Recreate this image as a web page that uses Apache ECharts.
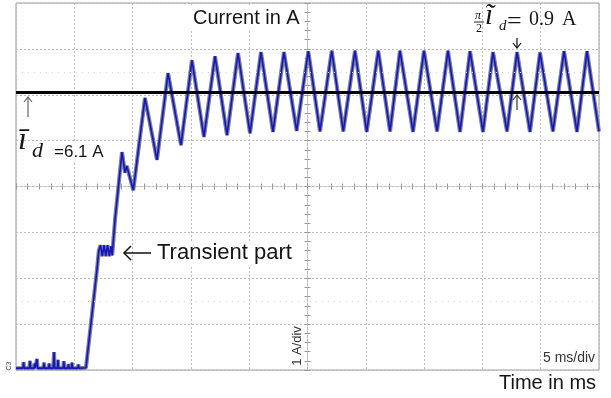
<!DOCTYPE html>
<html>
<head>
<meta charset="utf-8">
<script src="https://cdn.jsdelivr.net/npm/echarts@6/dist/echarts.min.js"></script>
<style>
  html, body { margin: 0; padding: 0; background: #fff; }
  #chart { width: 611px; height: 398px; }
</style>
</head>
<body>
<div id="chart"></div>
<script>
(function () {
  // scope settings: 5 ms/div, 1 A/div
  const timeRange = [0, 50];
  const timeStep = 5;
  const currentRange = [0, 8];
  const currentStep = 1;
  const meanCurrent = 6.06;
  const faintRows = [1.5, 6.5];

  // trace (ms, A)
  const timeMs = [
    0, 0.6, 0.65, 0.7, 1.15, 1.2, 1.25, 1.55, 1.6, 1.65, 1.75, 1.8, 1.85, 2.35, 2.4, 2.45,
    2.8, 2.85, 2.9, 3.2, 3.26, 3.32, 3.55, 3.6, 3.65, 4.05, 4.1, 4.15, 4.45, 4.5, 4.55,
    4.75, 4.8, 4.85, 5.3, 5.35, 5.4, 6.0,
    6.4, 6.95, 7.1,
    7.25, 7.4, 7.55, 7.7, 7.85, 8.0, 8.15, 8.25,
    8.5, 9.09, 9.35, 9.5, 10.06,
    11.06, 12.09, 13.04, 14.15, 15.09, 16.12, 17.07, 18.1, 19.04, 20.07,
    21.01, 22.04, 22.98, 24.07, 25.07, 26.07, 27.08, 28.07, 29.07, 30.08,
    31.07, 32.08, 32.93, 34.05, 34.99, 36.11, 37.05, 38.08, 38.94, 40.05,
    40.91, 42.11, 42.97, 44.08, 44.94, 46.05, 47.0, 48.11, 48.97, 50
  ];
  const currentA = [
    0.04, 0.04, 0.17, 0.04, 0.04, 0.2, 0.04, 0.04, 0.14, 0.04, 0.04, 0.24, 0.04, 0.04, 0.16, 0.04,
    0.04, 0.14, 0.04, 0.04, 0.39, 0.04, 0.04, 0.22, 0.04, 0.04, 0.19, 0.04, 0.04, 0.13, 0.04,
    0.04, 0.16, 0.04, 0.04, 0.12, 0.04, 0.05,
    0.95, 2.2, 2.6,
    2.72, 2.48, 2.72, 2.48, 2.72, 2.48, 2.7, 2.5,
    3.3, 4.75, 4.3, 4.45, 3.92,
    5.93, 4.58, 6.47, 4.9, 6.75, 5.08, 6.84, 5.12, 6.91, 5.16,
    6.93, 5.19, 6.93, 5.21, 6.95, 5.2, 6.96, 5.2, 6.96, 5.19,
    6.96, 5.2, 6.96, 5.19, 6.96, 5.2, 6.96, 5.19, 6.95, 5.19,
    6.93, 5.2, 6.93, 5.19, 6.92, 5.2, 6.95, 5.19, 6.95, 5.2
  ];

  const trace = timeMs.map((t, i) => [t, currentA[i]]);

  const grid = { left: 16, right: 12, top: 3, bottom: 28 };
  const gridLine = { show: true, lineStyle: { color: '#bdbdbd', type: [2, 2], width: 1 } };
  const hidden = { show: false };

  // tick marks along the centre lines of the screen
  const centreX = (inside) => ({
    type: 'value', min: -25, max: 25, interval: timeStep,
    axisLine: { show: true, onZero: true, onZeroAxisIndex: 1, lineStyle: { color: '#bdbdbd', type: [2, 2] } },
    axisTick: { show: true, inside: inside, length: 3, lineStyle: { color: '#999' } },
    minorTick: { show: true, splitNumber: 5, length: 3, lineStyle: { color: '#999' } },
    axisLabel: hidden, splitLine: hidden
  });
  const centreY = (inside) => ({
    type: 'value', min: -4, max: 4, interval: currentStep,
    axisLine: { show: true, onZero: true, onZeroAxisIndex: 1, lineStyle: { color: '#bdbdbd', type: [2, 2] } },
    axisTick: { show: true, inside: inside, length: 3, lineStyle: { color: '#999' } },
    minorTick: { show: true, splitNumber: 5, length: 3, lineStyle: { color: '#999' } },
    axisLabel: hidden, splitLine: hidden
  });

  const sans = '"Liberation Sans", Arial, sans-serif';
  const serif = '"Liberation Serif", "DejaVu Serif", serif';

  const label = (x, y, text, font, extra) => ({
    type: 'text', x: x, y: y, z: 100,
    style: Object.assign({ text: text, font: font, fill: '#151515', backgroundColor: '#fff' }, extra || {})
  });
  const path = (points, color, width) => ({
    type: 'polyline', z: 100,
    shape: { points: points },
    style: { stroke: color, lineWidth: width, fill: null }
  });

  const chart = echarts.init(document.getElementById('chart'));
  chart.setOption({
    animation: false,
    grid: Object.assign({ show: true, borderColor: '#9a9a9a', borderWidth: 1, backgroundColor: '#fff' }, grid),
    xAxis: [
      { type: 'value', min: timeRange[0], max: timeRange[1], interval: timeStep,
        axisLine: hidden, axisTick: hidden, axisLabel: hidden, splitLine: gridLine },
      centreX(true),
      centreX(false)
    ],
    yAxis: [
      { type: 'value', min: currentRange[0], max: currentRange[1], interval: currentStep,
        axisLine: hidden, axisTick: hidden, axisLabel: hidden, splitLine: gridLine },
      centreY(true),
      centreY(false)
    ],
    series: [
      {
        type: 'line', data: trace, showSymbol: false, silent: true,
        lineStyle: { color: '#7a8095', width: 4 },
        markLine: {
          silent: true, symbol: 'none', label: hidden,
          lineStyle: { color: '#d4d4d4', type: [1, 5], width: 1 },
          data: faintRows.map(v => ({ yAxis: v }))
        }
      },
      {
        type: 'line', data: trace, showSymbol: false, silent: true,
        lineStyle: { color: '#1414c0', width: 1.6 },
        markLine: {
          silent: true, symbol: 'none', label: hidden,
          lineStyle: { color: '#000', type: 'solid', width: 3 },
          data: [{ yAxis: meanCurrent }]
        }
      }
    ],
    graphic: [
      label(189, 6, 'Current in A', '20px ' + sans, { padding: [2, 4] }),

      // pi/2 ~i_d = 0.9 A
      label(475, 10, 'π', 'italic 12px ' + serif, { backgroundColor: null }),
      { type: 'line', z: 100, shape: { x1: 474, y1: 22, x2: 484, y2: 22 }, style: { stroke: '#222', lineWidth: 1 } },
      label(476, 23, '2', '12px ' + serif, { backgroundColor: null }),
      label(485, 2, 'ĩ', 'italic 29px ' + serif, { backgroundColor: null }),
      label(499, 19, 'd', 'italic 15px ' + serif, { backgroundColor: null }),
      label(507, 9, '=', '26px ' + serif, { backgroundColor: null }),
      label(529, 10, '0.9', '20px ' + serif, { backgroundColor: null }),
      label(562, 10, 'A', '20px ' + serif, { backgroundColor: null }),
      path([[517, 38], [517, 48]], '#111', 1.2),
      path([[513, 43], [517, 48], [521, 43]], '#111', 1.2),
      path([[517, 110], [517, 95]], '#333', 1.2),
      path([[513, 100], [517, 95], [521, 100]], '#333', 1.2),

      // mean value label
      path([[28, 117], [28, 97]], '#666', 1.2),
      path([[24, 102], [28, 97], [32, 102]], '#666', 1.2),
      label(18, 125, 'ī', 'italic 32px ' + serif, { backgroundColor: null }),
      label(32, 140, 'd', 'italic 22px ' + serif, { backgroundColor: null }),
      label(52, 143, '=6.1 A', '17px ' + sans, { padding: [1, 2] }),

      // transient note
      path([[124, 253], [151, 253]], '#111', 1.5),
      path([[131, 246], [124, 253], [131, 260]], '#111', 1.5),
      label(155, 241, 'Transient part', '22px ' + sans, { padding: [1, 2] }),

      // scope readouts
      { type: 'text', x: 297, y: 346, rotation: Math.PI / 2, z: 100,
        style: { text: '1 A/div', font: '13px ' + sans, fill: '#333', align: 'center', verticalAlign: 'middle', backgroundColor: '#fff' } },
      { type: 'text', x: 9, y: 366, rotation: Math.PI / 2, z: 100,
        style: { text: 'C3', font: '7px ' + sans, fill: '#555', align: 'center', verticalAlign: 'middle' } },
      label(542, 351, '5 ms/div', '14px ' + sans, { fill: '#333', padding: [0, 1] }),
      label(499, 373, 'Time in ms', '20px ' + sans)
    ]
  });
})();
</script>
</body>
</html>
